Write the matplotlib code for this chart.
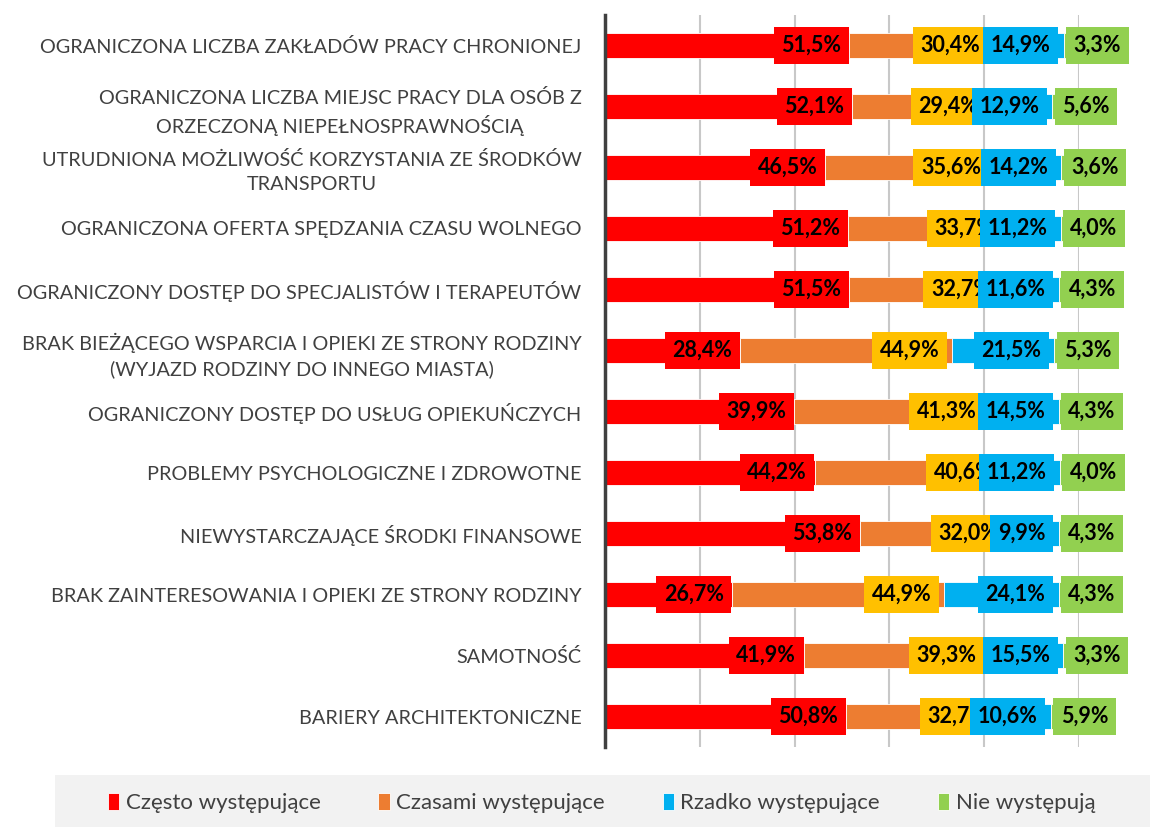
# 障壁の頻度 - 100%積み上げ横棒グラフ
import numpy as np
from matplotlib import pyplot as plt
from matplotlib.patches import Rectangle

# --------------------------------------------
# データ
# --------------------------------------------
categories = [
    "OGRANICZONA LICZBA ZAKŁADÓW PRACY CHRONIONEJ",
    "OGRANICZONA LICZBA MIEJSC PRACY DLA OSÓB Z\nORZECZONĄ NIEPEŁNOSPRAWNOŚCIĄ",
    "UTRUDNIONA MOŻLIWOŚĆ KORZYSTANIA ZE ŚRODKÓW\nTRANSPORTU",
    "OGRANICZONA OFERTA SPĘDZANIA CZASU WOLNEGO",
    "OGRANICZONY DOSTĘP DO SPECJALISTÓW I TERAPEUTÓW",
    "BRAK BIEŻĄCEGO WSPARCIA I OPIEKI ZE STRONY RODZINY\n(WYJAZD RODZINY DO INNEGO MIASTA)",
    "OGRANICZONY DOSTĘP DO USŁUG OPIEKUŃCZYCH",
    "PROBLEMY PSYCHOLOGICZNE I ZDROWOTNE",
    "NIEWYSTARCZAJĄCE ŚRODKI FINANSOWE",
    "BRAK ZAINTERESOWANIA I OPIEKI ZE STRONY RODZINY",
    "SAMOTNOŚĆ",
    "BARIERY ARCHITEKTONICZNE",
]
czesto = [51.5, 52.1, 46.5, 51.2, 51.5, 28.4, 39.9, 44.2, 53.8, 26.7, 41.9, 50.8]
czasami = [30.4, 29.4, 35.6, 33.7, 32.7, 44.9, 41.3, 40.6, 32.0, 44.9, 39.3, 32.7]
rzadko = [14.9, 12.9, 14.2, 11.2, 11.6, 21.5, 14.5, 11.2, 9.9, 24.1, 15.5, 10.6]
nie = [3.3, 5.6, 3.6, 4.0, 4.3, 5.3, 4.3, 4.0, 4.3, 4.3, 3.3, 5.9]

series_names = ["Często występujące", "Czasami występujące", "Rzadko występujące", "Nie występują"]
bar_colors = ["#FF0000", "#ED7D31", "#00B0F0", "#92D050"]
box_colors = ["#FF0000", "#FFC000", "#00B0F0", "#92D050"]

# --------------------------------------------
# 描画
# --------------------------------------------
plt.rcParams['font.family'] = ['Lato', 'DejaVu Sans']

fig = plt.figure(figsize=(11.57, 8.27), dpi=100)
ax = fig.add_axes([605 / 1157, 1 - 747 / 827, 474 / 1157, 732 / 827])

y = np.arange(len(categories))
series = [czesto, czasami, rzadko, nie]
left = np.zeros(len(categories))
for i, vals in enumerate(series):
    vals = np.array(vals)
    ax.barh(y, vals, left=left, height=0.41, color=bar_colors[i],
            edgecolor="white", linewidth=0.6, label=series_names[i], zorder=2)
    for j in range(len(categories)):
        txt = f"{vals[j]:.1f}%".replace(".", ",")
        end = left[j] + vals[j]
        if i == 3:
            # 緑は区間の始まりに左寄せ
            xy, off, ha = (left[j], y[j]), (7, 0), "left"
        elif i == 0:
            xy, off, ha = (end, y[j]), (-5.5, 0), "right"
        else:
            xy, off, ha = (end, y[j]), (-9.5, 0), "right"
        ax.annotate(txt, xy=xy, xytext=off, textcoords="offset points",
                    ha=ha, va="center", fontsize=15.5, fontweight="bold",
                    color="black", zorder=3 + i, annotation_clip=False,
                    bbox=dict(boxstyle="square,pad=0.35", fc=box_colors[i], ec="none"))
    left = left + vals

ax.set_xlim(0, 100)
ax.set_ylim(len(categories) - 0.5, -0.5)
ax.set_xticks([20, 40, 60, 80, 100])
ax.xaxis.grid(True, color="#C8C8C8", linewidth=1.5, zorder=0)
ax.tick_params(axis="x", length=0, labelbottom=False)
ax.tick_params(axis="y", length=0, pad=17)
ax.set_yticks(y)
ax.set_yticklabels(categories, fontsize=14.3, color="#404040", multialignment="center",
                   linespacing=1.45)
for s in ["top", "right", "bottom"]:
    ax.spines[s].set_visible(False)
ax.spines["left"].set_color("#404040")
ax.spines["left"].set_linewidth(2.5)

# 凡例の背景
fig.patches.append(Rectangle((55 / 1157, 0), 1095 / 1157, 52 / 827,
                             transform=fig.transFigure, fc="#F2F2F2", ec="none", zorder=0))
fig.legend(loc="center", bbox_to_anchor=(0.52, 24 / 827), ncol=4, frameon=False,
           fontsize=16, handlelength=0.5, handleheight=0.85, handletextpad=0.3,
           columnspacing=2.6, labelcolor="#404040")

fig.savefig("out.png", dpi=100)
